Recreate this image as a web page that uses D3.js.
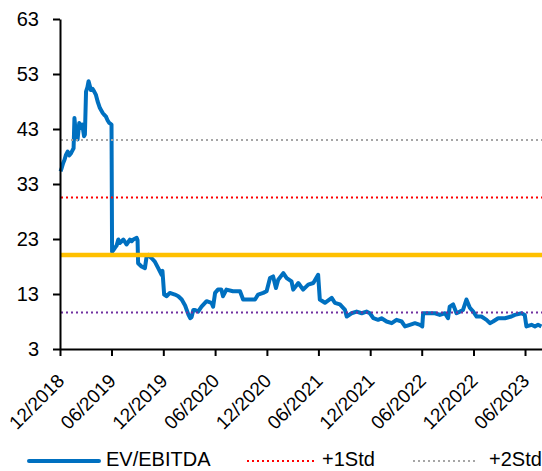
<!DOCTYPE html>
<html>
<head>
<meta charset="utf-8">
<script src="https://cdn.jsdelivr.net/npm/d3@7"></script>
<style>
  html, body { margin: 0; padding: 0; background: #ffffff; }
  svg { display: block; font-family: "Liberation Sans", Arial, sans-serif; }
</style>
</head>
<body>
<svg id="chart" width="542" height="471"></svg>
<script>
// EV/EBITDA history (date, multiple)
const obsDates = [
  "2018-12-03","2018-12-07","2018-12-12","2018-12-17","2018-12-22","2018-12-28","2019-01-03","2019-01-09",
  "2019-01-15","2019-01-18","2019-01-21","2019-01-26","2019-02-01","2019-02-07","2019-02-12","2019-02-18",
  "2019-02-24","2019-02-27","2019-03-03","2019-03-08","2019-03-12","2019-03-16","2019-03-20","2019-03-26",
  "2019-04-01","2019-04-07","2019-04-13","2019-04-21","2019-05-01","2019-05-06","2019-05-12","2019-05-18",
  "2019-05-24","2019-06-01","2019-06-03","2019-06-08","2019-06-13","2019-06-19","2019-06-25","2019-07-01",
  "2019-07-07","2019-07-13","2019-07-24","2019-08-05","2019-08-11","2019-08-17","2019-08-29","2019-09-01",
  "2019-09-03","2019-09-15","2019-09-27","2019-10-03","2019-10-09","2019-10-21","2019-11-01","2019-11-13",
  "2019-11-25","2019-11-28","2019-12-04","2019-12-13","2019-12-24","2020-01-11","2020-01-23","2020-02-04",
  "2020-02-16","2020-02-28","2020-03-05","2020-03-10","2020-03-16","2020-03-22","2020-04-02","2020-04-14",
  "2020-05-02","2020-05-19","2020-05-25","2020-06-01","2020-06-11","2020-06-23","2020-06-29","2020-07-11",
  "2020-08-03","2020-08-28","2020-09-08","2020-10-02","2020-10-20","2020-10-31","2020-11-18","2020-11-30",
  "2020-12-12","2020-12-23","2021-01-02","2021-01-10","2021-01-28","2021-02-09","2021-02-26","2021-03-04",
  "2021-03-22","2021-04-08","2021-04-26","2021-05-14","2021-05-31","2021-06-06","2021-06-24","2021-07-18",
  "2021-07-29","2021-08-16","2021-09-03","2021-09-09","2021-09-26","2021-10-14","2021-11-01","2021-11-18",
  "2021-11-30","2021-12-12","2021-12-29","2022-01-10","2022-01-28","2022-02-15","2022-03-04","2022-03-22",
  "2022-04-03","2022-04-20","2022-05-08","2022-05-26","2022-06-03","2022-06-06","2022-06-24","2022-07-18",
  "2022-08-04","2022-08-22","2022-09-02","2022-09-08","2022-09-20","2022-10-02","2022-10-14","2022-10-25",
  "2022-11-06","2022-11-18","2022-11-30","2022-12-12","2022-12-29","2023-01-16","2023-01-28","2023-02-08",
  "2023-02-26","2023-03-22","2023-04-14","2023-04-26","2023-05-20","2023-05-31","2023-06-06","2023-06-24",
  "2023-07-06","2023-07-17","2023-07-29"
];
const evEbitda = [
  35.3, 35.9, 36.8, 37.4, 38.3, 38.9, 38.2, 38.6,
  39.2, 39.5, 45.0, 42.0, 41.1, 44.1, 43.2, 43.8,
  41.7, 42.0, 49.8, 50.6, 51.7, 50.9, 50.1, 50.3,
  49.8, 49.2, 48.0, 46.8, 45.9, 45.6, 45.3, 44.6,
  44.1, 43.8, 20.7, 21.0, 21.4, 21.8, 22.9, 22.3,
  22.6, 22.9, 22.0, 22.9, 22.6, 22.9, 23.2, 22.8,
  18.6, 18.0, 17.7, 19.8, 20.1, 19.5, 18.9, 17.7,
  16.5, 17.2, 12.9, 12.6, 13.2, 12.9, 12.6, 12.0,
  10.9, 9.2, 8.6, 8.8, 10.1, 10.1, 9.8, 10.7,
  11.7, 11.4, 10.7, 13.2, 13.8, 13.8, 12.6, 13.8,
  13.5, 13.5, 12.0, 12.0, 12.0, 12.9, 13.2, 13.5,
  15.9, 16.2, 14.1, 15.6, 16.8, 15.9, 15.3, 13.8,
  15.0, 13.8, 14.7, 15.0, 16.5, 12.0, 11.4, 12.3,
  11.4, 11.1, 10.1, 8.9, 9.5, 9.8, 9.5, 9.8,
  9.5, 8.6, 8.3, 8.6, 8.0, 7.7, 8.3, 8.0,
  7.1, 7.4, 7.7, 7.4, 7.1, 9.5, 9.5, 9.5,
  9.2, 9.5, 8.6, 10.7, 11.1, 9.5, 9.8, 10.1,
  12.0, 10.5, 9.8, 8.9, 8.9, 8.3, 7.7, 8.0,
  8.6, 8.6, 8.9, 9.2, 9.5, 9.2, 7.1, 7.4,
  7.1, 7.4, 7.1
];

// Average and standard-deviation bands
const meanLevel = 20.1;
const plus1Std = 30.55;
const plus2Std = 41.0;
const minus1Std = 9.65;

// Axis ticks
const yTicks = [3, 13, 23, 33, 43, 53, 63];
const xTickDates = ["2018-12-01","2019-06-01","2019-12-01","2020-06-01","2020-12-01",
                    "2021-06-01","2021-12-01","2022-06-01","2022-12-01","2023-06-01"];
const xTickLabels = ["12/2018","06/2019","12/2019","06/2020","12/2020",
                     "06/2021","12/2021","06/2022","12/2022","06/2023"];

const parse = d3.timeParse("%Y-%m-%d");
const series = obsDates.map((d, i) => ({ date: parse(d), value: evEbitda[i] }));

const svg = d3.select("#chart");
const plotLeft = 60, plotRight = 542, plotTop = 19, plotBottom = 349;

const x = d3.scaleTime()
  .domain([parse("2018-12-01"), parse("2023-07-31")])
  .range([plotLeft, plotRight]);
const y = d3.scaleLinear().domain([3, 63]).range([plotBottom, plotTop]);

// Main series
const line = d3.line().x(d => x(d.date)).y(d => y(d.value));
svg.append("path")
  .datum(series)
  .attr("fill", "none")
  .attr("stroke", "#0070C0")
  .attr("stroke-width", 4)
  .attr("stroke-linejoin", "round")
  .attr("d", line);

// Reference levels
const levels = [
  { v: plus2Std, color: "#A6A6A6", width: 2, dash: "2,3" },
  { v: plus1Std, color: "#FF0000", width: 2, dash: "2,3" },
  { v: minus1Std, color: "#7030A0", width: 2, dash: "2,3" },
  { v: meanLevel, color: "#FFC000", width: 4.5, dash: null }
];
svg.selectAll("line.level")
  .data(levels)
  .join("line")
  .attr("class", "level")
  .attr("x1", plotLeft + 1)
  .attr("x2", plotRight)
  .attr("y1", d => y(d.v))
  .attr("y2", d => y(d.v))
  .attr("stroke", d => d.color)
  .attr("stroke-width", d => d.width)
  .attr("stroke-dasharray", d => d.dash);

// Y axis
const yAxis = svg.append("g")
  .attr("transform", `translate(${plotLeft},0)`)
  .call(d3.axisLeft(y).tickValues(yTicks).tickSize(7).tickPadding(14).tickSizeOuter(0));
yAxis.select(".domain").attr("stroke", "#000").attr("stroke-width", 2);
yAxis.selectAll(".tick line").attr("stroke", "#000").attr("stroke-width", 2);
yAxis.selectAll(".tick text")
  .attr("fill", "#000")
  .style("font-size", "20px")
  .style("font-family", "'Liberation Sans', Arial, sans-serif");

// X axis
const xAxis = svg.append("g")
  .attr("transform", `translate(0,${plotBottom})`)
  .call(d3.axisBottom(x)
    .tickValues(xTickDates.map(parse))
    .tickFormat((d, i) => xTickLabels[i])
    .tickSize(7)
    .tickSizeOuter(0));
xAxis.select(".domain").attr("stroke", "#000").attr("stroke-width", 2);
xAxis.selectAll(".tick line").attr("stroke", "#000").attr("stroke-width", 2);
xAxis.selectAll(".tick text")
  .attr("fill", "#000")
  .attr("text-anchor", "end")
  .attr("dy", null)
  .attr("y", 0)
  .attr("transform", "translate(5,33) rotate(-45)")
  .style("font-size", "19px")
  .style("font-family", "'Liberation Sans', Arial, sans-serif");

// Legend
const legendY = 461;
const legendItems = [
  { label: "EV/EBITDA", color: "#0070C0", width: 4, dash: null, x1: 29, x2: 99, tx: 106 },
  { label: "+1Std", color: "#FF0000", width: 2, dash: "2,3", x1: 247, x2: 315, tx: 322 },
  { label: "+2Std", color: "#A6A6A6", width: 2, dash: "2,3", x1: 413, x2: 478, tx: 489 }
];
const lg = svg.append("g");
lg.selectAll("line")
  .data(legendItems)
  .join("line")
  .attr("x1", d => d.x1).attr("x2", d => d.x2)
  .attr("y1", legendY).attr("y2", legendY)
  .attr("stroke", d => d.color)
  .attr("stroke-width", d => d.width)
  .attr("stroke-linecap", d => d.dash ? "butt" : "round")
  .attr("stroke-dasharray", d => d.dash);
lg.selectAll("text")
  .data(legendItems)
  .join("text")
  .attr("x", d => d.tx)
  .attr("y", 466)
  .attr("fill", "#000")
  .style("font-size", "20px")
  .text(d => d.label);
</script>
</body>
</html>
